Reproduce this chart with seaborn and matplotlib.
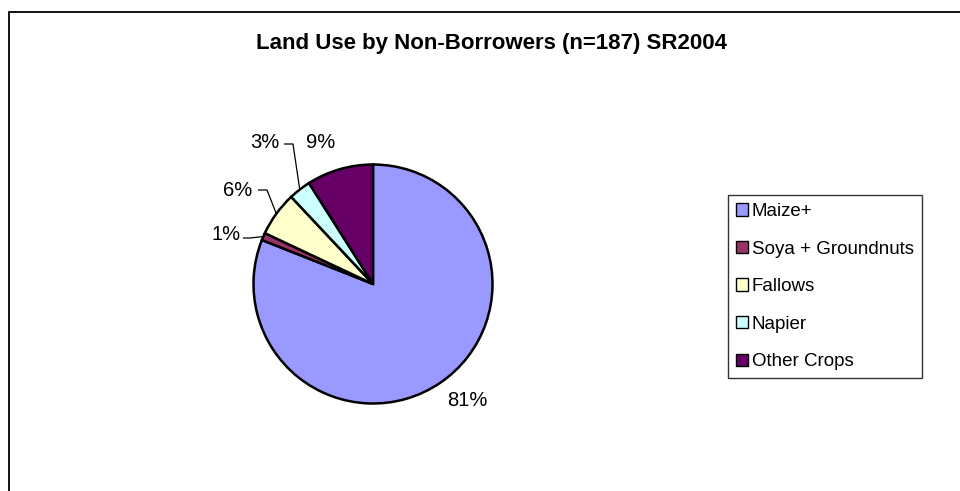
import matplotlib
matplotlib.use("Agg")
import matplotlib.pyplot as plt
import matplotlib.patches as mpatches
import numpy as np
import seaborn as sns

# Land use shares (percent) for non-borrowers, SR2004
categories = ["Maize+", "Soya + Groundnuts", "Fallows", "Napier", "Other Crops"]
shares = [81, 1, 6, 3, 9]
share_labels = ["81%", "1%", "6%", "3%", "9%"]
colors = ["#9999FF", "#993366", "#FFFFCC", "#CCFFFF", "#660066"]

sns.set_theme(style="white")
plt.rcParams["font.family"] = ["Liberation Sans", "DejaVu Sans"]
plt.rcParams["text.color"] = "black"

W, H = 960, 491
fig = plt.figure(figsize=(W / 100, H / 100), dpi=100)
fig.patch.set_facecolor("white")

# pie geometry in pixels: centre and radius
cx, cy, rad = 373, 284, 119.5
ax = fig.add_axes([0, 0, 1, 1])

wedges, _ = ax.pie(
    shares,
    colors=sns.color_palette(colors),
    startangle=90,
    counterclock=False,
    radius=1,
    wedgeprops=dict(edgecolor="black", linewidth=1.8),
)
ax.set_aspect("auto")
ax.set_xlim(-cx / rad, (W - cx) / rad)
ax.set_ylim(-(H - cy) / rad, cy / rad)
ax.set_axis_off()


def to_data(px, py):
    return (px - cx) / rad, (cy - py) / rad


# label centres (pixels) and optional leader (x start, x elbow, y) in pixels
label_pos = [(467, 401), (226, 235), (238, 190), (265, 143), (321, 143)]
leaders = [None, (243, 250, 238), (258, 267, 190), (284, 293, 144), None]

for w, txt, pos, ld in zip(wedges, share_labels, label_pos, leaders):
    x, y = to_data(*pos)
    ax.text(x, y, txt, ha="center", va="center", fontsize=14.5, color="black")
    if ld is not None:
        mid = np.deg2rad((w.theta1 + w.theta2) / 2)
        ax_, ay_ = np.cos(mid), np.sin(mid)
        xs, _ = to_data(ld[0], ld[2])
        xe, yl = to_data(ld[1], ld[2])
        ax.plot([xs, xe, ax_], [yl, yl, ay_], color="black", lw=0.9,
                solid_capstyle="butt")

fig.text(492 / W, 1 - 44 / H, "Land Use by Non-Borrowers (n=187) SR2004",
         ha="center", va="center", fontsize=16, fontweight="bold",
         color="black")

handles = [mpatches.Patch(facecolor=c, edgecolor="black", linewidth=1.0)
           for c in colors]
leg = fig.legend(
    handles, categories,
    loc="upper left",
    bbox_to_anchor=(728 / W, 1 - 195 / H),
    bbox_transform=fig.transFigure,
    fontsize=13.5,
    frameon=True,
    fancybox=False,
    shadow=False,
    borderaxespad=0,
    borderpad=0.42,
    labelspacing=1.1,
    handlelength=0.65,
    handleheight=0.65,
    handletextpad=0.2,
)
leg.get_frame().set_edgecolor("black")
leg.get_frame().set_linewidth(1.0)
for t in leg.get_texts():
    t.set_color("black")

# chart-area border running off the right and bottom edges
fig.patches.append(mpatches.Rectangle(
    (8.5 / W, -0.1), 1.2, 1 - 11.5 / H + 0.1,
    transform=fig.transFigure, fill=False, edgecolor="black", linewidth=1.3,
))

fig.savefig("out.png", dpi=100)
